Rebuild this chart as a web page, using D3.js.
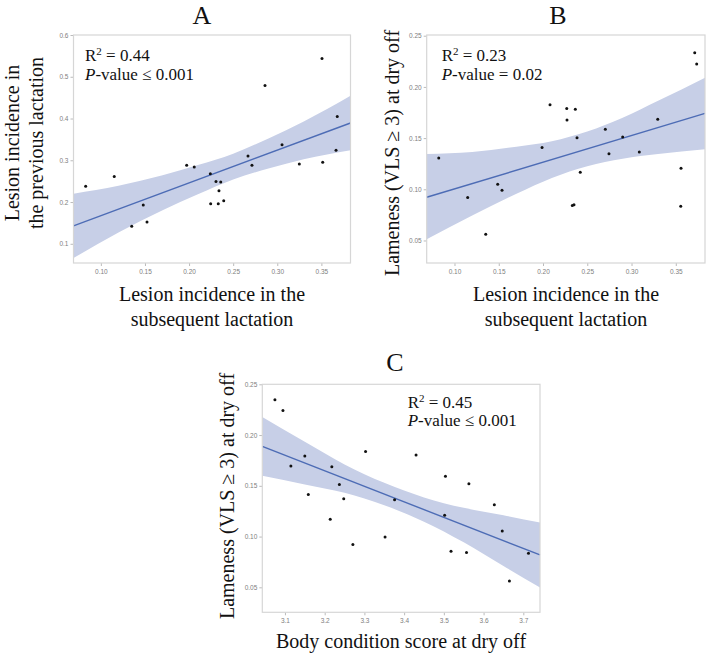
<!DOCTYPE html>
<html lang="en">
<head>
<meta charset="UTF-8">
<title>Lesion incidence, lameness and body condition</title>
<script src="https://d3js.org/d3.v7.min.js"></script>
<style>
  body { margin: 0; background: #fff; }
  .serif { font-family: "Liberation Serif", "Times New Roman", serif; fill: #111; }
  .axis text { font-family: "Liberation Sans", Arial, sans-serif; font-size: 6.5px; fill: #808080; }
  .axis line { stroke: #bbb; }
</style>
</head>
<body>
<div id="chart"></div>
<script>
// ---- Panel A: lesion incidence subsequent (x) vs previous lactation (y)
const lesionSubA = [0.0828, 0.1152, 0.1350, 0.1481, 0.1523, 0.1973, 0.2059, 0.2241, 0.2245, 0.2305, 0.2359, 0.2339,
                    0.2331, 0.2393, 0.2668, 0.2713, 0.2861, 0.3054, 0.3250, 0.3507, 0.3515, 0.3666, 0.3680];
const lesionPrevA = [0.238, 0.261, 0.142, 0.193, 0.152, 0.288, 0.284, 0.268, 0.196, 0.249, 0.248, 0.227,
                     0.196, 0.203, 0.310, 0.288, 0.479, 0.337, 0.291, 0.544, 0.295, 0.324, 0.405];
const fitA = [[0.069, 0.1428], [0.383, 0.3893]];
const bandXA = [0.069, 0.12, 0.17, 0.21, 0.25, 0.29, 0.33, 0.383];
const bandHiA = [0.2198, 0.2388, 0.2641, 0.2885, 0.3159, 0.3523, 0.3927, 0.4543];
const bandLoA = [0.0658, 0.1268, 0.1801, 0.2185, 0.2539, 0.2803, 0.3027, 0.3243];

// ---- Panel B: lesion incidence subsequent (x) vs lameness at dry off (y)
const lesionSubB = [0.0822, 0.1149, 0.1353, 0.1488, 0.1537, 0.1989, 0.2079, 0.2268, 0.2271, 0.2365, 0.2384, 0.2331,
                    0.2350, 0.2421, 0.2704, 0.2745, 0.2900, 0.3088, 0.3296, 0.3559, 0.3556, 0.3714, 0.3736];
const lamenessB = [0.1306, 0.0919, 0.0561, 0.1049, 0.0990, 0.1407, 0.1826, 0.1790, 0.1677, 0.1781, 0.1504, 0.0841,
                   0.0850, 0.1166, 0.1586, 0.1348, 0.1511, 0.1364, 0.1683, 0.1205, 0.0834, 0.2334, 0.2223];
const fitB = [[0.0686, 0.0922], [0.383, 0.1742]];
const bandXB = [0.0686, 0.12, 0.17, 0.21, 0.25, 0.29, 0.33, 0.383];
const bandHiB = [0.1345, 0.1365, 0.1416, 0.147, 0.1565, 0.1699, 0.1864, 0.209];
const bandLoB = [0.0512, 0.0745, 0.0956, 0.111, 0.1225, 0.1299, 0.1344, 0.139];

// ---- Panel C: body condition score (x) vs lameness at dry off (y)
const bcsC = [3.0748, 3.095, 3.115, 3.150, 3.1588, 3.214, 3.218, 3.237, 3.248, 3.271, 3.303, 3.352,
              3.376, 3.430, 3.504, 3.502, 3.518, 3.557, 3.563, 3.627, 3.647, 3.665, 3.713];
const lamenessC = [0.2349, 0.2243, 0.1694, 0.1793, 0.1414, 0.1171, 0.1688, 0.1513, 0.1372, 0.0921, 0.1839, 0.0997,
                   0.1362, 0.1803, 0.1595, 0.1211, 0.0855, 0.0842, 0.1520, 0.1313, 0.1056, 0.0563, 0.0836];
const fitC = [[3.043, 0.1888], [3.742, 0.0819]];
const bandXC = [3.043, 3.15, 3.25, 3.35, 3.45, 3.55, 3.65, 3.742];
const bandHiC = [0.2178, 0.1934, 0.1711, 0.1529, 0.1386, 0.1283, 0.121, 0.1139];
const bandLoC = [0.1598, 0.1514, 0.1431, 0.1309, 0.1146, 0.0943, 0.071, 0.0499];

// tick labels
const lesionTicks = [0.10, 0.15, 0.20, 0.25, 0.30, 0.35];
const prevTicks = [0.1, 0.2, 0.3, 0.4, 0.5, 0.6];
const lamenessTicks = [0.05, 0.10, 0.15, 0.20, 0.25];
const bcsTicks = [3.1, 3.2, 3.3, 3.4, 3.5, 3.6, 3.7];

const svg = d3.select("#chart").append("svg")
    .attr("width", 707)
    .attr("height", 654);

const panels = [
    {
        name: "A", xs: lesionSubA, ys: lesionPrevA, fit: fitA,
        bandX: bandXA, bandHi: bandHiA, bandLo: bandLoA,
        left: 73.5, right: 350.5, top: 35, bottom: 263,
        xDomain: [0.069, 0.383], yDomain: [0.054, 0.6],
        xTicks: lesionTicks, yTicks: prevTicks, xFmt: ".2f", yFmt: ".1f",
        title: [202, 24], stat: ["0.44", "≤ 0.001"], statPos: [85, 61],
        yLabel: ["Lesion incidence in", "the previous lactation"], yLabelPos: [19, 143],
        xLabel: ["Lesion incidence in the", "subsequent lactation"], xLabelPos: [212, 301]
    },
    {
        name: "B", xs: lesionSubB, ys: lamenessB, fit: fitB,
        bandX: bandXB, bandHi: bandHiB, bandLo: bandLoB,
        left: 426.7, right: 705, top: 35, bottom: 263,
        xDomain: [0.0686, 0.383], yDomain: [0.028, 0.2507],
        xTicks: lesionTicks, yTicks: lamenessTicks, xFmt: ".2f", yFmt: ".2f",
        title: [558, 24], stat: ["0.23", "= 0.02"], statPos: [441.7, 61],
        yLabel: ["Lameness (VLS ≥ 3) at dry off"], yLabelPos: [399, 153],
        xLabel: ["Lesion incidence in the", "subsequent lactation"], xLabelPos: [566, 301]
    },
    {
        name: "C", xs: bcsC, ys: lamenessC, fit: fitC,
        bandX: bandXC, bandHi: bandHiC, bandLo: bandLoC,
        left: 262.3, right: 540, top: 384.3, bottom: 612.3,
        xDomain: [3.043, 3.742], yDomain: [0.0254, 0.25],
        xTicks: bcsTicks, yTicks: lamenessTicks, xFmt: ".1f", yFmt: ".2f",
        title: [395, 371], stat: ["0.45", "≤ 0.001"], statPos: [407.7, 407.5],
        yLabel: ["Lameness (VLS ≥ 3) at dry off"], yLabelPos: [234, 496],
        xLabel: ["Body condition score at dry off"], xLabelPos: [401, 648]
    }
];

panels.forEach(drawPanel);

function drawPanel(p) {
    const x = d3.scaleLinear().domain(p.xDomain).range([p.left, p.right]);
    const y = d3.scaleLinear().domain(p.yDomain).range([p.bottom, p.top]);
    const g = svg.append("g");

    const clipId = "clip" + p.name;
    g.append("clipPath").attr("id", clipId)
        .append("rect")
        .attr("x", p.left).attr("y", p.top)
        .attr("width", p.right - p.left).attr("height", p.bottom - p.top);

    // confidence band
    const band = p.bandX.map((bx, i) => ({ x: bx, lo: p.bandLo[i], hi: p.bandHi[i] }));
    g.append("path")
        .datum(band)
        .attr("clip-path", `url(#${clipId})`)
        .attr("fill", "#c7cfe7")
        .attr("d", d3.area()
            .x(d => x(d.x))
            .y0(d => y(d.lo))
            .y1(d => y(d.hi))
            .curve(d3.curveMonotoneX));

    // fitted line
    g.append("path")
        .datum(p.fit)
        .attr("fill", "none")
        .attr("stroke", "#4d6cb5")
        .attr("stroke-width", 1.4)
        .attr("d", d3.line().x(d => x(d[0])).y(d => y(d[1])));

    // points
    g.selectAll("circle")
        .data(p.xs.map((v, i) => [v, p.ys[i]]))
        .join("circle")
        .attr("cx", d => x(d[0]))
        .attr("cy", d => y(d[1]))
        .attr("r", 1.5)
        .attr("fill", "#111");

    // axes (no domain line, the frame is drawn below)
    g.append("g")
        .attr("class", "axis")
        .attr("transform", `translate(0,${p.bottom})`)
        .call(d3.axisBottom(x).tickValues(p.xTicks).tickSize(3).tickPadding(3).tickFormat(d3.format(p.xFmt)))
        .call(a => a.select(".domain").remove());

    g.append("g")
        .attr("class", "axis")
        .attr("transform", `translate(${p.left},0)`)
        .call(d3.axisLeft(y).tickValues(p.yTicks).tickSize(3).tickPadding(2).tickFormat(d3.format(p.yFmt)))
        .call(a => a.select(".domain").remove());

    g.append("rect")
        .attr("x", p.left).attr("y", p.top)
        .attr("width", p.right - p.left).attr("height", p.bottom - p.top)
        .attr("fill", "none")
        .attr("stroke", "#d6d6d6")
        .attr("stroke-width", 1.2);

    // panel letter
    g.append("text")
        .attr("class", "serif")
        .attr("x", p.title[0]).attr("y", p.title[1])
        .attr("text-anchor", "middle")
        .attr("font-size", 26)
        .text(p.name);

    // R2 and P-value
    const r2 = g.append("text").attr("class", "serif")
        .attr("x", p.statPos[0]).attr("y", p.statPos[1]).attr("font-size", 17);
    r2.append("tspan").text("R");
    r2.append("tspan").attr("font-size", 11).attr("dy", -6).text("2");
    r2.append("tspan").attr("dy", 6).text(" = " + p.stat[0]);

    const pv = g.append("text").attr("class", "serif")
        .attr("x", p.statPos[0]).attr("y", p.statPos[1] + 18.5).attr("font-size", 17);
    pv.append("tspan").attr("font-style", "italic").text("P");
    pv.append("tspan").text("-value " + p.stat[1]);

    // y label (rotated, reads bottom to top)
    const yl = g.append("text").attr("class", "serif")
        .attr("font-size", 20)
        .attr("text-anchor", "middle")
        .attr("transform", `translate(${p.yLabelPos[0]},${p.yLabelPos[1]}) rotate(-90)`);
    p.yLabel.forEach((s, i) => {
        yl.append("tspan").attr("x", 0).attr("y", i * 24).text(s);
    });

    // x label
    p.xLabel.forEach((s, i) => {
        g.append("text").attr("class", "serif")
            .attr("font-size", 20)
            .attr("text-anchor", "middle")
            .attr("x", p.xLabelPos[0])
            .attr("y", p.xLabelPos[1] + i * 25)
            .text(s);
    });
}
</script>
</body>
</html>
